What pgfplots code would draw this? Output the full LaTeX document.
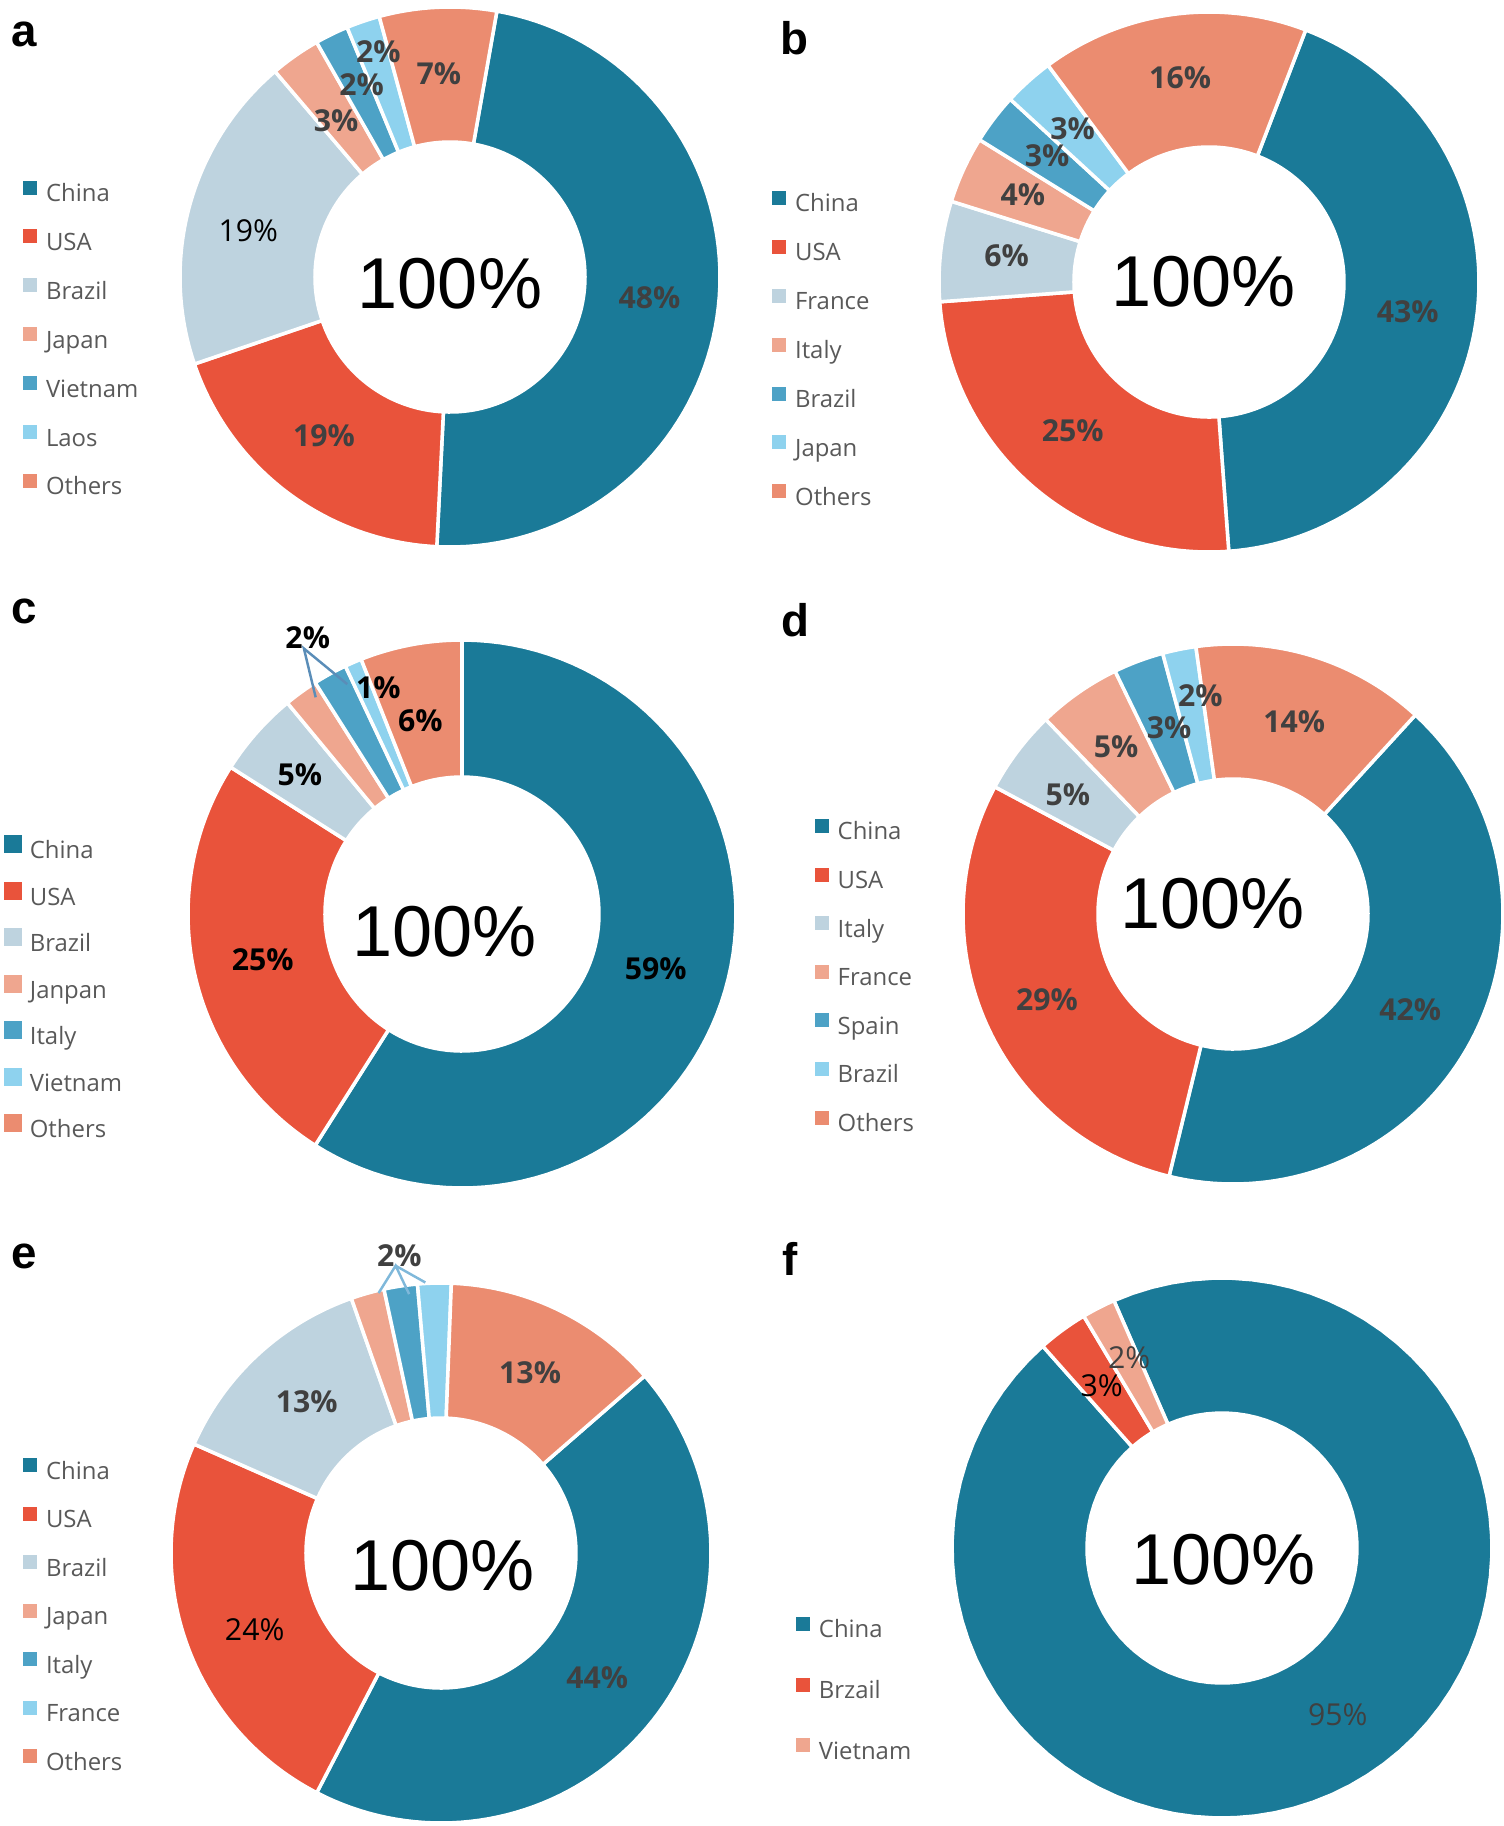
\documentclass[border=0pt]{standalone}
\usepackage{pgfplots}
\pgfplotsset{compat=1.18}
\usepackage{fontspec}
\setmainfont{Open Sans}
\newfontfamily\arialf{Liberation Sans}
\definecolor{cChina}{HTML}{1A7A98}
\definecolor{cUSA}{HTML}{E9533B}
\definecolor{cGray}{HTML}{BED3DF}
\definecolor{cLSalmon}{HTML}{EFA68F}
\definecolor{cMBlue}{HTML}{4DA2C6}
\definecolor{cLBlue}{HTML}{8ED2EE}
\definecolor{cSalmon}{HTML}{EB8C70}
\definecolor{legendgray}{HTML}{595959}
\definecolor{labgray}{HTML}{404040}
\definecolor{leadc}{HTML}{5A8DB8}
\definecolor{leade}{HTML}{7FB8DA}

\newcommand{\slice}[5]{%
  \addplot[fill=#3, draw=white, line width=1pt, domain=0:3, samples=241, variable=\t]
    ({(\t<1 ? 1 : (\t<2 ? 1.5-0.5*\t : 0.5))*cos(90-(#4)-3.6*(#1+(#2-#1)*(\t<1 ? \t : (\t<2 ? 1 : 3-\t))))},
     {(\t<1 ? 1 : (\t<2 ? 1.5-0.5*\t : 0.5))*sin(90-(#4)-3.6*(#1+(#2-#1)*(\t<1 ? \t : (\t<2 ? 1 : 3-\t))))}) -- cycle;
  \addlegendentry{#5}%
}

\tikzset{
  lab/.style={font=\fontsize{8.6}{10}\selectfont\bfseries, text=labgray, inner sep=0pt},
  labk/.style={font=\fontsize{8.6}{10}\selectfont\bfseries, text=black, inner sep=0pt},
  labn/.style={font=\fontsize{8.6}{10}\selectfont, text=black, inner sep=0pt},
  labng/.style={font=\fontsize{8.6}{10}\selectfont, text=labgray, inner sep=0pt},
  big/.style={font=\arialf\fontsize{20.5}{24}\selectfont, text=black, inner sep=0pt},
  letter/.style={font=\arialf\bfseries\fontsize{13}{15}\selectfont, text=black, inner sep=0pt},
}

\pgfplotsset{donut/.style={
  hide axis, scale only axis, width=5.4cm, height=5.4cm,
  xmin=-1, xmax=1, ymin=-1, ymax=1, clip=false, anchor=center,
  legend cell align=left,
  legend image code/.code={\fill[##1,draw=none] (0cm,0.01cm) rectangle (0.14cm,0.15cm);},
  legend style={draw=none, fill=none, anchor=west, inner sep=0pt, outer sep=0pt,
    row sep=0.219cm, column sep=0.09cm,
    font=\fontsize{6.8}{8}\selectfont, text=legendgray,
    nodes={inner sep=0pt, text height=0.18cm, text depth=0.06cm}},
}}

\begin{document}
\begin{tikzpicture}
\useasboundingbox (0,0) rectangle (15.04,-18.26);

% ---------- a ----------
\begin{axis}[donut, at={(4.50cm,-2.77cm)}, legend style={at={(-0.2907,0.382)}}]
\slice{0}{48}{cChina}{10}{China}
\slice{48}{67}{cUSA}{10}{USA}
\slice{67}{86}{cGray}{10}{Brazil}
\slice{86}{89}{cLSalmon}{10}{Japan}
\slice{89}{91}{cMBlue}{10}{Vietnam}
\slice{91}{93}{cLBlue}{10}{Laos}
\slice{93}{100}{cSalmon}{10}{Others}
\node[big] at (axis cs:0,-0.024) {100\%};
\node[lab] at (axis cs:0.739,-0.077) {48\%};
\node[lab] at (axis cs:-0.467,-0.589) {19\%};
\node[labn] at (axis cs:-0.747,0.173) {19\%};
\node[lab] at (axis cs:-0.422,0.578) {3\%};
\node[lab] at (axis cs:-0.327,0.711) {2\%};
\node[lab] at (axis cs:-0.265,0.836) {2\%};
\node[lab] at (axis cs:-0.041,0.753) {7\%};
\end{axis}

% ---------- b ----------
\begin{axis}[donut, at={(12.09cm,-2.82cm)}, legend style={at={(-0.309,0.372)}}]
\slice{0}{43}{cChina}{21}{China}
\slice{43}{68}{cUSA}{21}{USA}
\slice{68}{74}{cGray}{21}{France}
\slice{74}{78}{cLSalmon}{21}{Italy}
\slice{78}{81}{cMBlue}{21}{Brazil}
\slice{81}{84}{cLBlue}{21}{Japan}
\slice{84}{100}{cSalmon}{21}{Others}
\node[big] at (axis cs:-0.019,0) {100\%};
\node[lab] at (axis cs:0.736,-0.110) {43\%};
\node[lab] at (axis cs:-0.505,-0.551) {25\%};
\node[lab] at (axis cs:-0.750,0.098) {6\%};
\node[lab] at (axis cs:-0.689,0.323) {4\%};
\node[lab] at (axis cs:-0.600,0.466) {3\%};
\node[lab] at (axis cs:-0.505,0.566) {3\%};
\node[lab] at (axis cs:-0.107,0.755) {16\%};
\end{axis}

% ---------- c ----------
\begin{axis}[donut, width=5.48cm, height=5.48cm, at={(4.62cm,-9.14cm)},
  legend image code/.code={\fill[#1,draw=none] (0cm,-0.005cm) rectangle (0.18cm,0.175cm);},
  legend style={at={(-0.336,0.362)}, row sep=0.17cm, column sep=0.08cm}]
\slice{0}{59}{cChina}{0}{China}
\slice{59}{84}{cUSA}{0}{USA}
\slice{84}{89}{cGray}{0}{Brazil}
\slice{89}{91}{cLSalmon}{0}{Janpan}
\slice{91}{93}{cMBlue}{0}{Italy}
\slice{93}{94}{cLBlue}{0}{Vietnam}
\slice{94}{100}{cSalmon}{0}{Others}
\addplot[forget plot, draw=leadc, line width=0.7pt] coordinates {(-0.534,0.791) (-0.577,0.969) (-0.419,0.839)};
\node[big] at (axis cs:-0.064,-0.065) {100\%};
\node[labk] at (axis cs:0.707,-0.200) {59\%};
\node[labk] at (axis cs:-0.727,-0.166) {25\%};
\node[labk] at (axis cs:-0.592,0.508) {5\%};
\node[labk] at (axis cs:-0.563,1.009) {2\%};
\node[labk] at (axis cs:-0.305,0.827) {1\%};
\node[labk] at (axis cs:-0.152,0.704) {6\%};
\end{axis}

% ---------- d ----------
\begin{axis}[donut, at={(12.33cm,-9.14cm)}, legend style={at={(-0.2746,0.381)}, row sep=0.216cm}]
\slice{0}{42}{cChina}{42.5}{China}
\slice{42}{71}{cUSA}{42.5}{USA}
\slice{71}{76}{cGray}{42.5}{Italy}
\slice{76}{81}{cLSalmon}{42.5}{France}
\slice{81}{84}{cMBlue}{42.5}{Spain}
\slice{84}{86}{cLBlue}{42.5}{Brazil}
\slice{86}{100}{cSalmon}{42.5}{Others}
\node[big] at (axis cs:-0.076,0.037) {100\%};
\node[lab] at (axis cs:0.656,-0.353) {42\%};
\node[lab] at (axis cs:-0.689,-0.316) {29\%};
\node[lab] at (axis cs:-0.612,0.442) {5\%};
\node[lab] at (axis cs:-0.433,0.619) {5\%};
\node[lab] at (axis cs:-0.237,0.689) {3\%};
\node[lab] at (axis cs:-0.121,0.807) {2\%};
\node[lab] at (axis cs:0.227,0.711) {14\%};
\end{axis}

% ---------- e ----------
\begin{axis}[donut, at={(4.41cm,-15.53cm)}, legend style={at={(-0.274,0.381)}, row sep=0.215cm}]
\slice{0}{44}{cChina}{49}{China}
\slice{44}{68}{cUSA}{49}{USA}
\slice{68}{81}{cGray}{49}{Brazil}
\slice{81}{83}{cLSalmon}{49}{Japan}
\slice{83}{85}{cMBlue}{49}{Italy}
\slice{85}{87}{cLBlue}{49}{France}
\slice{87}{100}{cSalmon}{49}{Others}
\addplot[forget plot, draw=leade, line width=0.7pt] coordinates {(-0.231,0.963) (-0.168,1.064) (-0.118,0.959)};
\addplot[forget plot, draw=leade, line width=0.7pt] coordinates {(-0.168,1.064) (-0.058,1.002)};
\node[big] at (axis cs:0.006,-0.047) {100\%};
\node[lab] at (axis cs:0.579,-0.463) {44\%};
\node[labn] at (axis cs:-0.690,-0.284) {24\%};
\node[lab] at (axis cs:-0.497,0.562) {13\%};
\node[lab] at (axis cs:0.330,0.667) {13\%};
\node[lab] at (axis cs:-0.154,1.103) {2\%};
\end{axis}

% ---------- f ----------
\begin{axis}[donut, at={(12.22cm,-15.48cm)}, legend style={at={(-0.289,0.235)}, row sep=0.337cm}]
\slice{0}{95}{cChina}{-23.6}{China}
\slice{95}{98}{cUSA}{-23.6}{Brzail}
\slice{98}{100}{cLSalmon}{-23.6}{Vietnam}
\node[big] at (axis cs:0.006,-0.044) {100\%};
\node[labng] at (axis cs:0.429,-0.616) {95\%};
\node[labn] at (axis cs:-0.446,0.603) {3\%};
\node[labng] at (axis cs:-0.344,0.704) {2\%};
\end{axis}

% panel letters
\node[letter] at (0.241,-0.341) {a};
\node[letter] at (7.944,-0.377) {b};
\node[letter] at (0.241,-6.118) {c};
\node[letter] at (7.954,-6.197) {d};
\node[letter] at (0.241,-12.569) {e};
\node[letter] at (7.906,-12.588) {f};
\end{tikzpicture}
\end{document}
